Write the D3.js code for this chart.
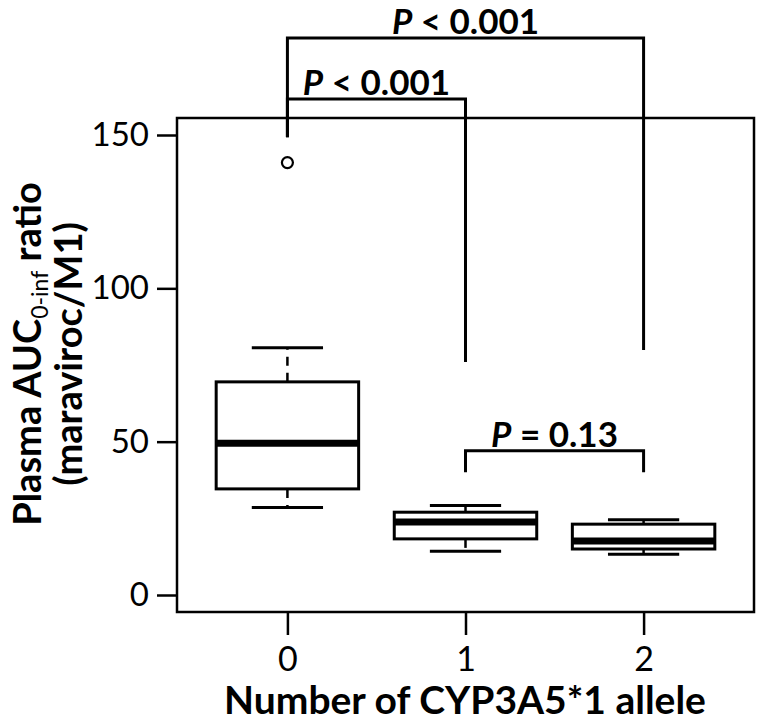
<!DOCTYPE html>
<head>
<meta charset="utf-8">
<script src="https://cdn.jsdelivr.net/npm/d3@7"></script>
<style>
  body { margin: 0; background: #fff; }
  text { font-family: Lato, "Open Sans", sans-serif; fill: #000; }
</style>
</head>
<body>
<svg width="759" height="722"></svg>
<script>
// number of CYP3A5*1 alleles
var groups = [0, 1, 2]
var whiskLo = [28.5, 14.3, 13.3]
var q1 = [34.6, 18.3, 15.0]
var med = [49.5, 23.8, 17.6]
var q3 = [69.5, 27.0, 23.1]
var whiskHi = [80.6, 29.2, 24.5]
var outliers = [[0, 141]]
var yTicks = [0, 50, 100, 150]

// pairwise comparisons: groups, bracket level, leg ends, p text
var cmpFrom = [0, 0, 1]
var cmpTo = [2, 1, 2]
var cmpLevel = [181.6, 161.7, 47]
var cmpLegFrom = [149.3, 149.3, 40]
var cmpLegTo = [79.9, 76, 40]
var cmpText = [" < 0.001", " < 0.001", " = 0.13"]

var svg = d3.select('svg')
  , pLeft = 177, pRight = 754, pTop = 118, pBottom = 612

var x = d3.scaleLinear().domain([-0.62, 2.62]).range([pLeft, pRight])
var y = d3.scaleLinear().domain([0, 150]).range([595, 135])
var bw = 0.8

// frame
svg.append('rect')
  .attr('x', pLeft).attr('y', pTop)
  .attr('width', pRight - pLeft).attr('height', pBottom - pTop)
  .attr('fill', 'none').attr('stroke', '#000').attr('stroke-width', 2.5)

var yAxis = svg.append('g')
  .attr('transform', 'translate(' + pLeft + ',0)')
  .call(d3.axisLeft(y).tickValues(yTicks).tickSize(20).tickPadding(8))
yAxis.select('.domain').remove()
yAxis.selectAll('line').attr('stroke-width', 2.5)
yAxis.selectAll('text').style('font-size', '33px').style('font-family', 'Lato, sans-serif')

var xAxis = svg.append('g')
  .attr('transform', 'translate(0,' + pBottom + ')')
  .call(d3.axisBottom(x).tickValues(groups).tickSize(23).tickPadding(12).tickFormat(d3.format('d')))
xAxis.select('.domain').remove()
xAxis.selectAll('line').attr('stroke-width', 2.5)
xAxis.selectAll('text').style('font-size', '34px').style('font-family', 'Lato, sans-serif')

// boxes
var g = svg.append('g').attr('stroke', '#000').attr('fill', 'none')
groups.forEach(function (d, i) {
  var cx = x(d)
  g.append('line').attr('x1', cx).attr('x2', cx).attr('y1', y(q3[i])).attr('y2', y(whiskHi[i]))
    .attr('stroke-width', 2.5).attr('stroke-dasharray', '9,7')
  g.append('line').attr('x1', cx).attr('x2', cx).attr('y1', y(q1[i])).attr('y2', y(whiskLo[i]))
    .attr('stroke-width', 2.5).attr('stroke-dasharray', '9,7')
  ;[whiskLo[i], whiskHi[i]].forEach(function (v) {
    g.append('line').attr('x1', x(d - bw / 4)).attr('x2', x(d + bw / 4))
      .attr('y1', y(v)).attr('y2', y(v)).attr('stroke-width', 3)
  })
  g.append('rect').attr('x', x(d - bw / 2)).attr('y', y(q3[i]))
    .attr('width', x(d + bw / 2) - x(d - bw / 2)).attr('height', y(q1[i]) - y(q3[i]))
    .attr('fill', '#fff').attr('stroke-width', 3)
  g.append('line').attr('x1', x(d - bw / 2)).attr('x2', x(d + bw / 2))
    .attr('y1', y(med[i])).attr('y2', y(med[i])).attr('stroke-width', 7)
})

g.selectAll('circle').data(outliers).enter().append('circle')
  .attr('cx', function (d) { return x(d[0]) })
  .attr('cy', function (d) { return y(d[1]) })
  .attr('r', 5.5).attr('stroke-width', 2.2)

// significance brackets
cmpFrom.forEach(function (a, i) {
  var b = cmpTo[i]
  svg.append('path')
    .attr('d', 'M' + x(a) + ',' + y(cmpLegFrom[i]) + 'V' + y(cmpLevel[i]) + 'H' + x(b) + 'V' + y(cmpLegTo[i]))
    .attr('fill', 'none').attr('stroke', '#000').attr('stroke-width', 3)
  var t = svg.append('text')
    .attr('x', (x(a) + x(b)) / 2).attr('y', y(cmpLevel[i]) - 4)
    .attr('text-anchor', 'middle')
    .style('font-size', '35px').style('font-weight', 'bold')
  t.append('tspan').style('font-style', 'italic').text('P')
  t.append('tspan').text(cmpText[i])
})

// axis titles
svg.append('text')
  .attr('x', 465).attr('y', 714)
  .attr('text-anchor', 'middle')
  .style('font-size', '39px').style('font-weight', 'bold')
  .text('Number of CYP3A5*1 allele')

var yt = svg.append('g').attr('transform', 'translate(41,354) rotate(-90)')
var t1 = yt.append('text').attr('text-anchor', 'middle')
  .style('font-size', '38px').style('font-weight', 'bold')
t1.append('tspan').text('Plasma AUC')
t1.append('tspan').attr('dy', 7).style('font-size', '23px').style('font-weight', 'normal').text('0-inf')
t1.append('tspan').attr('dy', -7).text(' ratio')
yt.append('text').attr('y', 41).attr('text-anchor', 'middle')
  .style('font-size', '38px').style('font-weight', 'bold')
  .text('(maraviroc/M1)')
</script>
</body>
